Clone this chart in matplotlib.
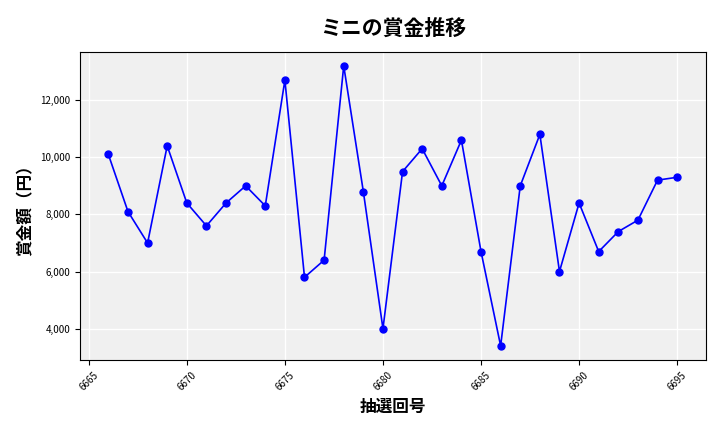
import matplotlib
matplotlib.use("Agg")
import matplotlib.pyplot as plt
from matplotlib.ticker import FuncFormatter

plt.rcParams['font.family'] = ['Noto Sans CJK JP', 'DejaVu Sans']

draws = list(range(6666, 6696))
prizes = [10100, 8100, 7000, 10400, 8400, 7600, 8400, 9000, 8300, 12700,
          5800, 6400, 13200, 8800, 4000, 9500, 10300, 9000, 10600, 6700,
          3400, 9000, 10800, 6000, 8400, 6700, 7400, 7800, 9200, 9300]

fig, ax = plt.subplots(figsize=(7.2, 4.32), dpi=100)
fig.subplots_adjust(left=0.111, right=0.98, top=0.88, bottom=0.167)
ax.set_facecolor('#f0f0f0')
ax.grid(True, color='white', linewidth=1)
ax.set_axisbelow(True)
ax.plot(draws, prizes, color='blue', marker='o', markersize=5, linewidth=1.2)
ax.set_title('ミニの賞金推移', fontsize=15, fontweight='bold', pad=12)
ax.set_xlabel('抽選回号', fontsize=12, fontweight='bold')
ax.set_ylabel('賞金額（円）', fontsize=12, fontweight='bold')
ax.yaxis.set_major_formatter(FuncFormatter(lambda v, p: f'{int(v):,}'))
ax.tick_params(axis='both', labelsize=7)
plt.setp(ax.get_xticklabels(), rotation=45)
fig.savefig('out.png', dpi=100)
